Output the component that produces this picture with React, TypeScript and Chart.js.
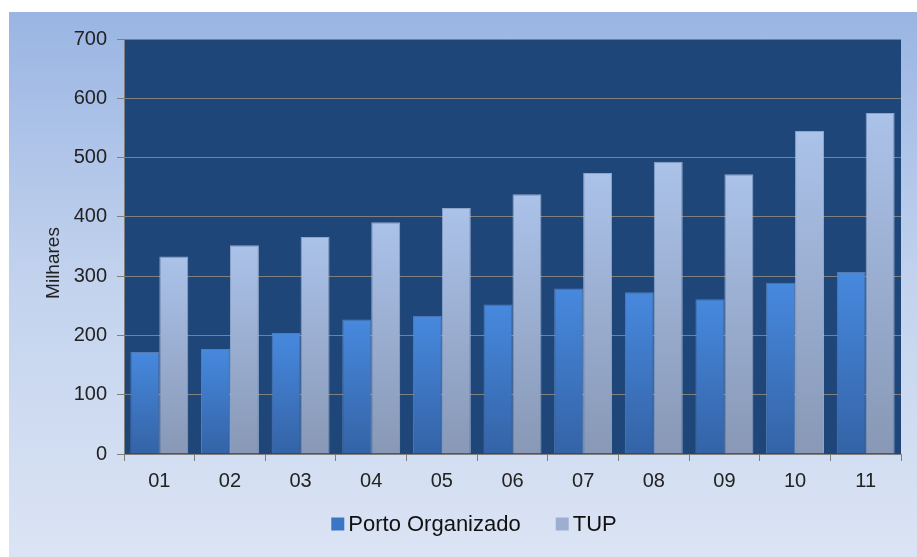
import React, { useEffect, useRef } from "react";
import { Chart, registerables } from "chart.js";

Chart.register(...registerables);

const categories = ["01", "02", "03", "04", "05", "06", "07", "08", "09", "10", "11"];
const portoOrganizado = [172, 177, 204, 227, 233, 252, 279, 273, 261, 289, 307];
const tup = [333, 352, 366, 391, 415, 438, 474, 493, 472, 545, 575];
const yTicks = [0, 100, 200, 300, 400, 500, 600, 700];
const seriesNames = ["Porto Organizado", "TUP"];
const legendColors = ["#3b76c6", "#9daed0"];
const yTitle = "Milhares";

const FONT = "'Liberation Sans', Arial, sans-serif";

function barGradient(ctx: any, top: string, bottom: string) {
  const chart = ctx.chart;
  const y = chart.scales && chart.scales.y;
  const area = chart.chartArea;
  if (!y || !area || ctx.raw === undefined) return top;
  const yTop = y.getPixelForValue(ctx.raw);
  const yBot = y.getPixelForValue(0);
  if (!isFinite(yTop) || !isFinite(yBot) || yTop === yBot) return top;
  const g = chart.ctx.createLinearGradient(0, yTop, 0, yBot);
  g.addColorStop(0, top);
  g.addColorStop(1, bottom);
  return g;
}

const plotBg = {
  id: "plotBg",
  beforeDraw(chart: any) {
    const { ctx, chartArea } = chart;
    if (!chartArea) return;
    ctx.save();
    ctx.fillStyle = "#1f4679";
    ctx.fillRect(chartArea.left, chartArea.top, chartArea.right - chartArea.left, chartArea.bottom - chartArea.top);
    ctx.restore();
  },
};

const customText = {
  id: "customText",
  afterDraw(chart: any) {
    const { ctx, width } = chart;
    ctx.save();
    // y-axis title
    ctx.font = `19px ${FONT}`;
    ctx.fillStyle = "#222";
    ctx.textAlign = "center";
    ctx.textBaseline = "middle";
    ctx.translate(45, 251);
    ctx.rotate(-Math.PI / 2);
    ctx.fillText(yTitle, 0, 0);
    ctx.restore();

    // legend
    ctx.save();
    ctx.font = `22px ${FONT}`;
    ctx.textBaseline = "middle";
    ctx.textAlign = "left";
    const box = 13;
    const gap = 4;
    const spacing = 35;
    const widths = seriesNames.map((n) => ctx.measureText(n).width);
    let total = 0;
    widths.forEach((w, i) => {
      total += box + gap + w + (i < widths.length - 1 ? spacing : 0);
    });
    let x = width / 2 + 11 - total / 2;
    const cy = 512;
    seriesNames.forEach((n, i) => {
      ctx.fillStyle = legendColors[i];
      ctx.fillRect(x, cy - box / 2, box, box);
      ctx.fillStyle = "#111";
      ctx.fillText(n, x + box + gap, cy + 1);
      x += box + gap + widths[i] + spacing;
    });
    ctx.restore();
  },
};

export default function App() {
  const ref = useRef<HTMLCanvasElement>(null);
  useEffect(() => {
    if (!ref.current) return;
    const chart = new Chart(ref.current, {
      type: "bar",
      data: {
        labels: categories,
        datasets: [
          {
            label: seriesNames[0],
            data: portoOrganizado,
            backgroundColor: (c: any) => barGradient(c, "#4789de", "#3463a6"),
            borderColor: "rgba(120,160,220,0.6)",
            borderWidth: 1,
          },
          {
            label: seriesNames[1],
            data: tup,
            backgroundColor: (c: any) => barGradient(c, "#abc2e9", "#8898b6"),
            borderColor: "rgba(190,205,235,0.7)",
            borderWidth: 1,
          },
        ],
      },
      options: {
        animation: false,
        responsive: false,
        maintainAspectRatio: false,
        layout: { padding: { left: 0, top: 27, right: 16, bottom: 70 } },
        datasets: { bar: { barPercentage: 1.0, categoryPercentage: 0.82 } },
        plugins: {
          tooltip: { enabled: false },
          legend: { display: false },
        },
        scales: {
          x: {
            offset: true,
            grid: {
              offset: true,
              drawOnChartArea: false,
              color: "#7f7f7f",
              tickLength: 7,
            },
            border: { color: "#7f7f7f" },
            ticks: { font: { family: FONT, size: 20 }, color: "#222", padding: 8 },
            afterFit: (s: any) => {
              s.height = 33;
            },
          },
          y: {
            min: 0,
            max: 700,
            afterBuildTicks: (s: any) => {
              s.ticks = yTicks.map((v) => ({ value: v }));
            },
            grid: { color: "#7f7f7f", tickLength: 7 },
            border: { color: "#7f7f7f" },
            ticks: { font: { family: FONT, size: 20 }, color: "#222", padding: 10 },
            afterFit: (s: any) => {
              s.width = 115;
            },
          },
        },
      },
      plugins: [plotBg, customText],
    });
    return () => chart.destroy();
  }, []);

  return (
    <div style={{ position: "fixed", left: 0, top: 0, width: 917, height: 557, background: "#ffffff" }}>
      <div
        style={{
          position: "absolute",
          left: 9,
          top: 12,
          width: 908,
          height: 545,
          background: "linear-gradient(to bottom, #9ab5e3 0%, #c3d3ee 50%, #dbe4f4 100%)",
        }}
      >
        <canvas ref={ref} width={908} height={545} style={{ display: "block" }} />
      </div>
    </div>
  );
}
